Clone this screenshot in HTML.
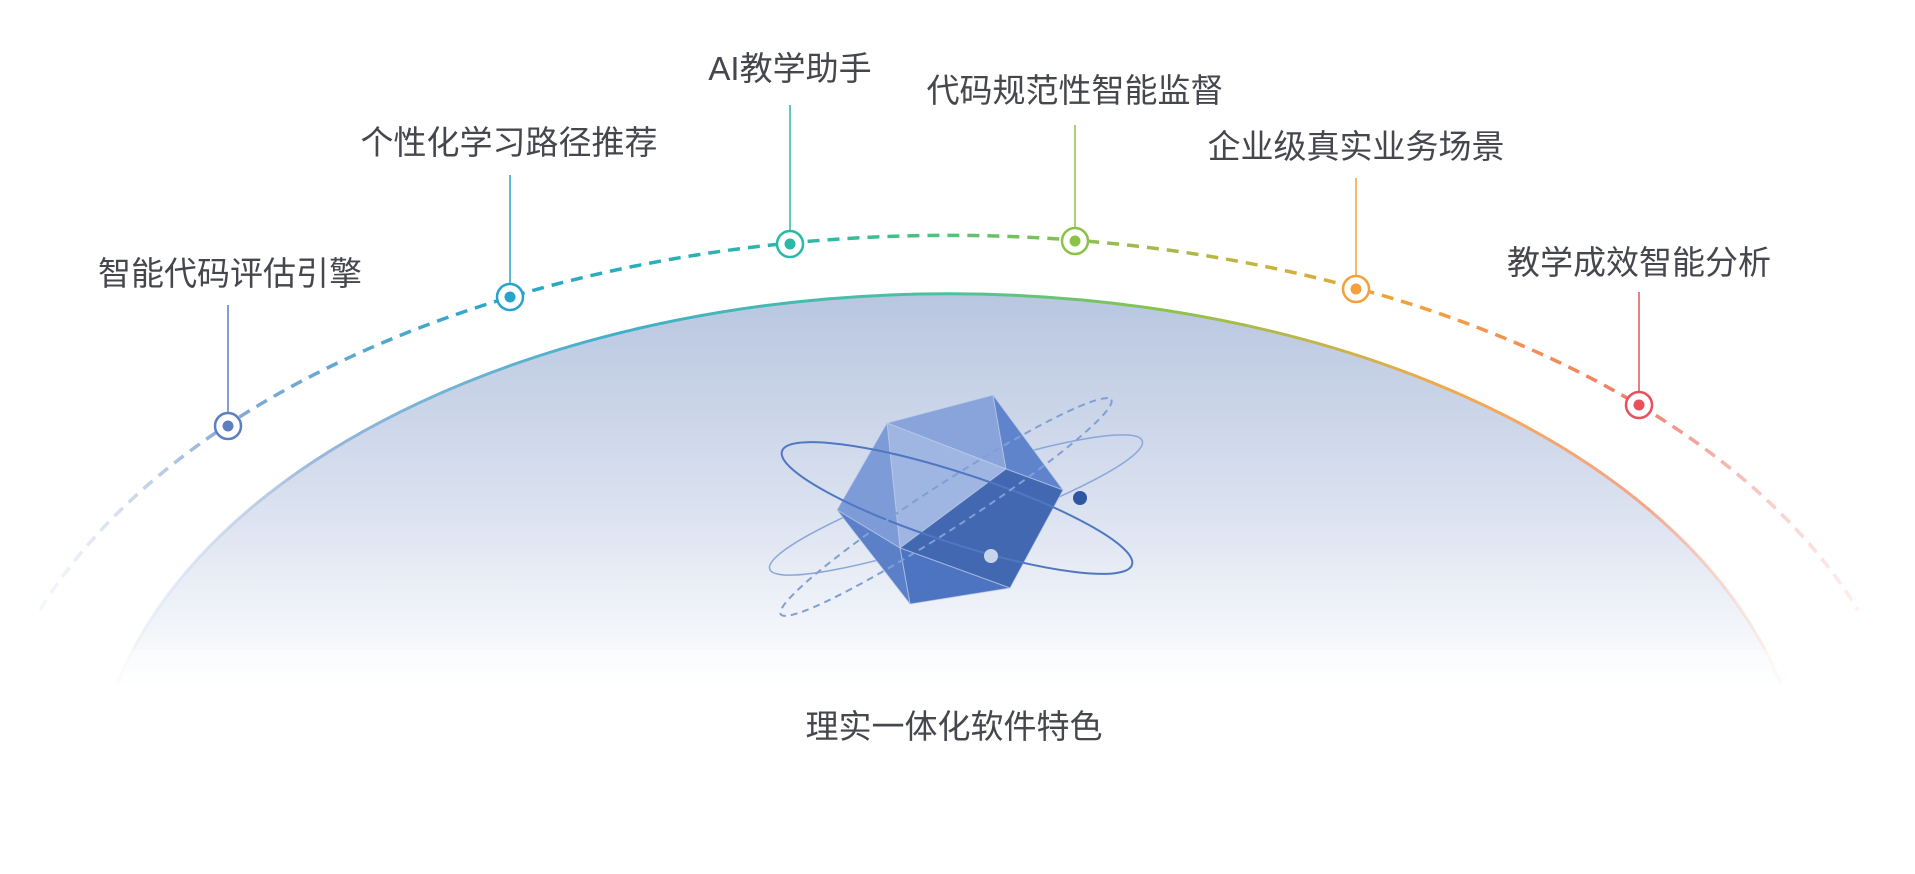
<!DOCTYPE html>
<html><head><meta charset="utf-8"><style>
html,body{margin:0;padding:0;background:#fff;}
body{width:1915px;height:874px;overflow:hidden;position:relative;font-family:"Liberation Sans","Noto Sans CJK SC",sans-serif;}
.l{position:absolute;font-size:33px;color:#45474d;white-space:nowrap;transform:translate(-50%,-50%);}
</style></head><body>
<svg width="1915" height="874" style="position:absolute;left:0;top:0">
<defs>
<linearGradient id="domeFill" x1="0" y1="293" x2="0" y2="690" gradientUnits="userSpaceOnUse">
<stop offset="0" stop-color="#b8c6e0"/><stop offset="0.55" stop-color="#dbe2f0"/><stop offset="1" stop-color="#ffffff"/></linearGradient>
<linearGradient id="domeStroke" x1="116" y1="0" x2="1782" y2="0" gradientUnits="userSpaceOnUse">
<stop offset="0" stop-color="#e6ecf6" stop-opacity="0.3"/><stop offset="0.12" stop-color="#9ab6dc"/><stop offset="0.3" stop-color="#3fb0c8"/><stop offset="0.5" stop-color="#4cc39a"/><stop offset="0.63" stop-color="#8bc34a"/><stop offset="0.8" stop-color="#f3a84a"/><stop offset="0.92" stop-color="#f8a48a"/><stop offset="1" stop-color="#fde0d8" stop-opacity="0.3"/></linearGradient>
<linearGradient id="arcStroke" x1="40" y1="0" x2="1858" y2="0" gradientUnits="userSpaceOnUse">
<stop offset="0" stop-color="#e6ecf6" stop-opacity="0.4"/><stop offset="0.1" stop-color="#8aaad6"/><stop offset="0.25" stop-color="#2ba5c9"/><stop offset="0.42" stop-color="#2bb8a8"/><stop offset="0.55" stop-color="#7cc15a"/><stop offset="0.67" stop-color="#c7b33e"/><stop offset="0.76" stop-color="#f5a03c"/><stop offset="0.88" stop-color="#f07d70"/><stop offset="1" stop-color="#fbd5d0" stop-opacity="0.4"/></linearGradient>
<linearGradient id="lf" x1="0" y1="1" x2="0" y2="0"><stop offset="0" stop-opacity="1" stop-color="#fff"/><stop offset="1" stop-opacity="0" stop-color="#fff"/></linearGradient>
</defs>
<path d="M117,684 A855,507 0 0 1 1781,684 Z" fill="url(#domeFill)"/>
<path d="M117,684 A855,507 0 0 1 1781,684" fill="none" stroke="url(#domeStroke)" stroke-width="3"/>
<rect x="0" y="650" width="1915" height="50" fill="#fff" opacity="0.4"/>
<path d="M40,610 A965,564 0 0 1 1858,610" fill="none" stroke="url(#arcStroke)" stroke-width="3.5" stroke-dasharray="12 8"/>
<g stroke-width="1.5">
<line x1="228" y1="305" x2="228" y2="412" stroke="#5b7fbf"/>
<line x1="510" y1="175" x2="510" y2="284" stroke="#2aa3cc"/>
<line x1="790" y1="105" x2="790" y2="231" stroke="#2bb8a8"/>
<line x1="1075" y1="125" x2="1075" y2="228" stroke="#8bc34a"/>
<line x1="1356" y1="178" x2="1356" y2="276" stroke="#f5a03c"/>
<line x1="1639" y1="292" x2="1639" y2="392" stroke="#e8505b"/>
</g>
<g stroke-width="2.5" fill="#fff">
<circle cx="228" cy="426" r="13" stroke="#5b7fbf"/><circle cx="228" cy="426" r="5.5" fill="#5b7fbf" stroke="none"/>
<circle cx="510" cy="297" r="13" stroke="#2aa3cc"/><circle cx="510" cy="297" r="5.5" fill="#2aa3cc" stroke="none"/>
<circle cx="790" cy="244" r="13" stroke="#2bb8a8"/><circle cx="790" cy="244" r="5.5" fill="#2bb8a8" stroke="none"/>
<circle cx="1075" cy="241" r="13" stroke="#8bc34a"/><circle cx="1075" cy="241" r="5.5" fill="#8bc34a" stroke="none"/>
<circle cx="1356" cy="289" r="13" stroke="#f5a03c"/><circle cx="1356" cy="289" r="5.5" fill="#f5a03c" stroke="none"/>
<circle cx="1639" cy="405" r="13" stroke="#e8505b"/><circle cx="1639" cy="405" r="5.5" fill="#e8505b" stroke="none"/>
</g>
<!-- crystal -->
<ellipse cx="956" cy="505" rx="197" ry="30" transform="rotate(-19 956 505)" fill="none" stroke="#8aa6da" stroke-width="1.5"/>
<g stroke="#c3d0ec" stroke-width="1" stroke-opacity="0.6">
<polygon points="887,423 993,395 1006,469" fill="#88a4da"/>
<polygon points="887,423 1006,469 900,548" fill="#9fb5e2"/>
<polygon points="887,423 900,548 837,510" fill="#7d9bd6"/>
<polygon points="993,395 1063,490 1006,469" fill="#5f84cc"/>
<polygon points="1006,469 1063,490 1010,588 900,548" fill="#4268b2"/>
<polygon points="900,548 1010,588 910,604" fill="#4d74c0"/>
<polygon points="837,510 900,548 910,604" fill="#5b80c8"/>
</g>
<ellipse cx="957" cy="508" rx="184" ry="35" transform="rotate(18 957 508)" fill="none" stroke="#5077c2" stroke-width="2"/>
<ellipse cx="946" cy="507" rx="197" ry="22" transform="rotate(-33 946 507)" fill="none" stroke="#7f9fd6" stroke-width="2" stroke-dasharray="7 5"/>
<circle cx="1080" cy="498" r="7" fill="#2f55a3"/>
<circle cx="991" cy="556" r="7" fill="#c8d4ec"/>
</svg>
<div class="l" style="left:230px;top:271px">智能代码评估引擎</div>
<div class="l" style="left:509px;top:140px">个性化学习路径推荐</div>
<div class="l" style="left:790px;top:66px">AI教学助手</div>
<div class="l" style="left:1075px;top:88px">代码规范性智能监督</div>
<div class="l" style="left:1356px;top:144px">企业级真实业务场景</div>
<div class="l" style="left:1639px;top:260px">教学成效智能分析</div>
<div class="l" style="left:954px;top:724px">理实一体化软件特色</div>
</body></html>
